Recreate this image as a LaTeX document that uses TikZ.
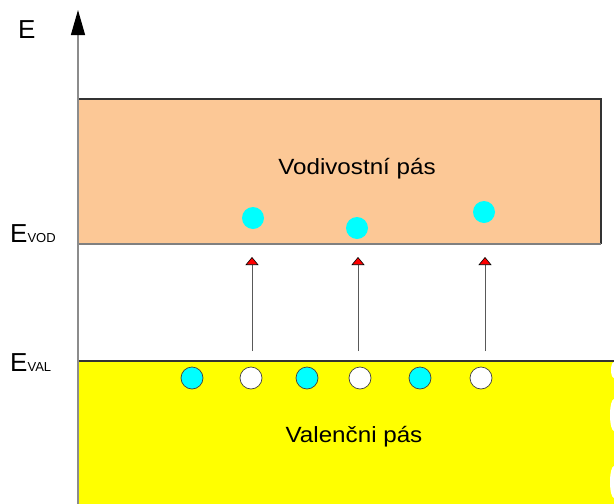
\documentclass[tikz,border=0pt]{standalone}
\usepackage{fontspec}
\setmainfont{Liberation Sans}
\usetikzlibrary{arrows.meta}
\definecolor{condfill}{HTML}{FCC896}
\definecolor{valfill}{HTML}{FFFF00}
\definecolor{eleccyan}{HTML}{00FFFF}
\tikzset{
  band/.style={inner sep=0pt, outer sep=0pt},
  electron/.style={circle, fill=eleccyan, minimum size=22pt, inner sep=0pt},
  velectron/.style={circle, fill=eleccyan, draw=black!75, line width=0.7pt, minimum size=22pt, inner sep=0pt},
  hole/.style={circle, fill=white, draw=black!75, line width=0.7pt, minimum size=22pt, inner sep=0pt},
  bandlabel/.style={font=\fontsize{22}{22}\selectfont, xscale=1.1, inner sep=0pt},
  elabel/.style={font=\fontsize{26}{26}\selectfont, inner sep=0pt, anchor=base west},
  jump/.style={draw=black!65, line width=1pt, -{Triangle[width=13pt,length=8pt,fill=red,black,line width=0.6pt]}},
}
\newcommand{\subsc}[1]{{\fontsize{13}{13}\selectfont #1}}
\begin{document}
\begin{tikzpicture}[x=1pt,y=-1pt]
\useasboundingbox (0,0) rectangle (614,504);
% conduction band
\fill[condfill] (78,99) rectangle (601,244);
\draw[black!80, line width=1.4pt] (78,99) -- (601,99) -- (601,244);
\draw[black!50, line width=1.4pt] (78,244) -- (601,244);
\node[bandlabel] (vod) at (357,169) {Vodivostní pás};
% valence band
\fill[valfill] (78,361) rectangle (614,504);
\fill[white] (614,370) ellipse (3 and 8);
\fill[white] (614,415) ellipse (4 and 16);
\fill[white] (614,482) ellipse (4 and 16);
\draw[black!80, line width=2pt] (78,361) -- (614,361);
\node[bandlabel] (val) at (354,437) {Valenčni pás};
% energy axis
\coordinate (axbot) at (78,504);
\coordinate (axtop) at (78,10);
\draw[black!45, line width=1.2pt, -{Triangle[width=14pt,length=25pt,black]}] (axbot) -- (axtop);
\node[elabel] (E) at (18,38) {E};
\node[elabel] (Evod) at (10,242) {E\subsc{VOD}};
\node[elabel] (Eval) at (10,371) {E\subsc{VAL}};
% conduction electrons
\node[electron] (c1) at (253,218) {};
\node[electron] (c2) at (357,228) {};
\node[electron] (c3) at (484,212) {};
% valence electrons and holes
\node[velectron] (v1) at (192,378) {};
\node[hole] (h1) at (251,378) {};
\node[velectron] (v2) at (307,378) {};
\node[hole] (h2) at (360,378) {};
\node[velectron] (v3) at (420,378) {};
\node[hole] (h3) at (481,378) {};
% transitions
\coordinate (a1s) at (252,351); \coordinate (a1e) at (252,257);
\coordinate (a2s) at (358,351); \coordinate (a2e) at (358,257);
\coordinate (a3s) at (485,351); \coordinate (a3e) at (485,257);
\draw[jump] (a1s) -- (a1e);
\draw[jump] (a2s) -- (a2e);
\draw[jump] (a3s) -- (a3e);
\end{tikzpicture}
\end{document}
